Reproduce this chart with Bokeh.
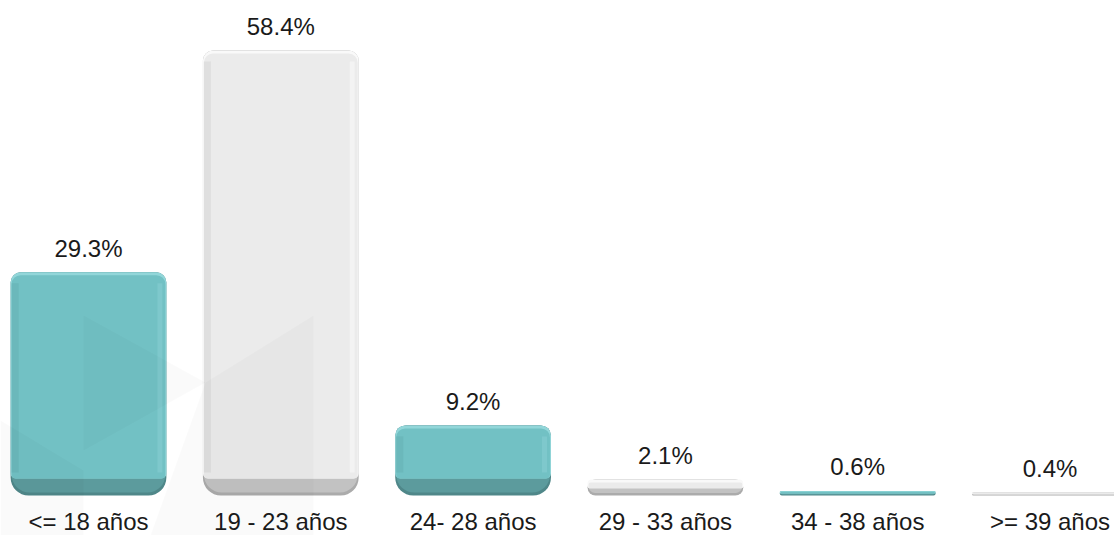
from bokeh.plotting import figure
from bokeh.models import Range1d, ColumnDataSource
from bokeh.core.properties import value as pval
from bokeh.embed import file_html
from bokeh.resources import INLINE

# ---- data ----
categories = ["<= 18 años", "19 - 23 años", "24- 28 años", "29 - 33 años", "34 - 38 años", ">= 39 años"]
values = [29.3, 58.4, 9.2, 2.1, 0.6, 0.4]
value_labels = [f"{v:.1f}%" for v in values]

# ---- style ----
TEAL = dict(main="#72C1C4", light="#92D6D9", dark="#5C9B9D", darker="#4F8789",
            edge_l="#64AFB2", edge_r="#8AD0D3")
GRAY = dict(main="#EBEBEB", light="#F9F9F9", dark="#C2C2C2", darker="#ABABAB",
            edge_l="#D3D3D3", edge_r="#FBFBFB")
styles = [TEAL, GRAY, TEAL, GRAY, TEAL, GRAY]

W, H = 1114, 535
PX_PER_UNIT_X = 192.3
PX_PER_PCT = 7.62
X0_PX = 88.0
BASE_PX = 495.0
BAR_W = 0.81
FONT = "Liberation Sans"

x_start = -X0_PX / PX_PER_UNIT_X
x_end = x_start + W / PX_PER_UNIT_X
y_end = BASE_PX / PX_PER_PCT
y_start = y_end - H / PX_PER_PCT

p = figure(width=W, height=H, x_range=Range1d(x_start, x_end), y_range=Range1d(y_start, y_end),
           output_backend="svg", toolbar_location=None, min_border=0,
           x_axis_location=None, y_axis_location=None, background_fill_color="white",
           border_fill_color="white")
p.grid.visible = False
p.outline_line_color = None
p.extra_x_ranges = {"px": Range1d(0, W)}
p.extra_y_ranges = {"px": Range1d(H, 0)}

def dy(px):
    return px / PX_PER_PCT

def dx(px):
    return px / PX_PER_UNIT_X

half = BAR_W / 2
for i, v in enumerate(values):
    st = styles[i]
    h = v * PX_PER_PCT
    bo = min(17.0, 0.45 * h)
    ts = min(3.0, 0.2 * h)
    r_top = int(min(10.0, h / 2))
    r_bot = int(min(18.0, h / 2))
    # darker bottom edge
    p.vbar(x=[i], top=[v], bottom=[0], width=BAR_W, fill_color=st["darker"], line_color=None,
           border_radius=(r_top, r_top, r_bot, r_bot))
    # dark bottom band
    p.vbar(x=[i], top=[v], bottom=[dy(min(3.0, 0.15 * h))], width=BAR_W - dx(2), fill_color=st["dark"],
           line_color=None, border_radius=(r_top, r_top, r_bot, r_bot))
    # light top rim
    fh = h - bo
    rf = int(min(10.0, fh / 2))
    p.vbar(x=[i], top=[v], bottom=[dy(bo)], width=BAR_W, fill_color=st["light"], line_color=None,
           border_radius=(rf, rf, rf // 2, rf // 2))
    # main face
    mh = h - bo - ts
    if mh > 0.5:
        rm = int(min(9.0, mh / 2))
        p.vbar(x=[i], top=[v - dy(ts)], bottom=[dy(bo)], width=BAR_W - dx(2), fill_color=st["main"],
               line_color=None, border_radius=(rm, rm, rm // 2, rm // 2))
    # side shading
    if h > 30:
        p.quad(left=[i - half + dx(1)], right=[i - half + dx(8)], bottom=[dy(bo + 6)], top=[v - dy(ts + 8)],
               fill_color=st["edge_l"], fill_alpha=0.5, line_color=None)
        p.quad(left=[i + half - dx(9)], right=[i + half - dx(4)], bottom=[dy(bo + 6)], top=[v - dy(ts + 8)],
               fill_color=st["edge_r"], fill_alpha=0.5, line_color=None)

# faint watermark (decoration, figure pixel coordinates)
wm_shapes = [
    [(83, 315), (205, 382), (83, 450)],
    [(313, 315), (313, 535), (150, 535), (205, 382)],
    [(0, 420), (83, 470), (83, 535), (0, 535)],
]
for shp in wm_shapes:
    p.patch(x=[a for a, b in shp], y=[b for a, b in shp], fill_color="black", fill_alpha=0.018,
            line_color=None, x_range_name="px", y_range_name="px")

src = ColumnDataSource(dict(x=list(range(len(values))), y=values, lab=value_labels,
                            cat=categories, zero=[0] * len(values)))
p.text(x="x", y="y", text="lab", source=src, text_align="center", text_baseline="alphabetic",
       y_offset=-24, text_font=pval(FONT), text_font_size="24px", text_color="#1A1A1A")
p.text(x="x", y="zero", text="cat", source=src, text_align="center", text_baseline="alphabetic",
       y_offset=26, text_font=pval(FONT), text_font_size="24px", text_color="#1A1A1A")

open("out.html", "w").write(file_html(p, INLINE))
